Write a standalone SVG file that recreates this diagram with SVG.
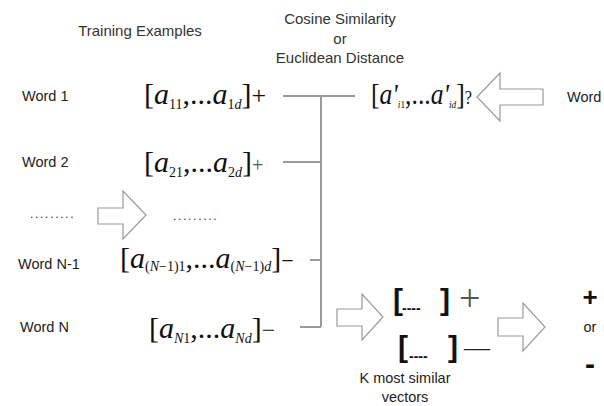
<svg xmlns="http://www.w3.org/2000/svg" width="604" height="406" viewBox="0 0 604 406">
  <style>
    .lbl { font-family: "Liberation Sans", Arial, sans-serif; font-size: 14.5px; fill: #222; }
    .hdr { font-family: "Liberation Sans", Arial, sans-serif; font-size: 15px; fill: #333; }
    .m { font-family: "Liberation Serif", "Times New Roman", serif; fill: #111; font-size: 30px; }
    .it { font-style: italic; }
    .s { font-size: 14px; }
    .dots { font-family: "Liberation Sans", Arial, sans-serif; font-size: 12px; letter-spacing: 1.7px; fill: #333; }
    .bb { font-family: "Liberation Sans", Arial, sans-serif; font-weight: bold; fill: #111; }
    .conn { stroke: #9a9a9a; stroke-width: 2; fill: none; }
    .arrow { fill: #fff; stroke: #9a9a9a; stroke-width: 1.2; stroke-linejoin: miter; }
  </style>

  <!-- block arrows (drawn first so nearby text stays on top) -->
  <g id="arrows">
    <polygon class="arrow" points="98,208 123,208 123,191 146,215 123,239 123,224 98,224"/>
    <polygon class="arrow" points="477,97 500,73 500,89 543,89 543,105 500,105 500,121"/>
    <polygon class="arrow" points="337,309 362,309 362,294 383,317 362,340 362,326 337,326"/>
    <polygon class="arrow" points="498,318 523,318 523,303 545,327 523,351 523,336 498,336"/>
  </g>

  <!-- comparison connectors -->
  <g id="connectors">
    <line class="conn" x1="283" y1="96" x2="355" y2="96"/>
    <line class="conn" x1="321" y1="96" x2="321" y2="327"/>
    <line class="conn" x1="283" y1="162" x2="321" y2="162"/>
    <line class="conn" x1="310" y1="260" x2="321" y2="260"/>
    <line class="conn" x1="300" y1="327" x2="321" y2="327"/>
  </g>

  <!-- headings -->
  <g id="heading-training">
    <text class="hdr" x="140" y="36" text-anchor="middle">Training Examples</text>
  </g>
  <g id="heading-metric">
    <text class="hdr" x="340" y="24" text-anchor="middle">Cosine Similarity</text>
    <text class="hdr" x="340" y="44" text-anchor="middle">or</text>
    <text class="hdr" x="340" y="63" text-anchor="middle">Euclidean Distance</text>
  </g>

  <!-- word labels -->
  <g id="word1-label"><text class="lbl" x="22" y="101">Word 1</text></g>
  <g id="word2-label"><text class="lbl" x="22" y="167">Word 2</text></g>
  <g id="wordN1-label"><text class="lbl" x="18" y="269">Word N-1</text></g>
  <g id="wordN-label"><text class="lbl" x="20" y="332">Word N</text></g>
  <g id="dots-left"><text class="dots" x="30" y="218">.........</text></g>
  <g id="dots-mid"><text class="dots" x="173" y="220">.........</text></g>

  <!-- training vectors: each one is a single text run with subscripts -->
  <g id="vec1">
    <text class="m" x="144" y="104">[<tspan class="it">a</tspan><tspan class="s" dy="5">11</tspan><tspan dy="-5">,...</tspan><tspan class="it">a</tspan><tspan class="s" dy="5">1<tspan class="it">d</tspan></tspan><tspan dy="-5">]</tspan><tspan font-size="26">+</tspan></text>
  </g>
  <g id="vec2">
    <text class="m" x="144" y="172">[<tspan class="it">a</tspan><tspan class="s" dy="5">21</tspan><tspan dy="-5">,...</tspan><tspan class="it">a</tspan><tspan class="s" dy="5">2<tspan class="it">d</tspan></tspan><tspan dy="-5">]</tspan><tspan font-size="20" fill="#555">+</tspan></text>
  </g>
  <g id="vecN1">
    <text class="m" x="120" y="268">[<tspan class="it">a</tspan><tspan class="s" dy="3">(<tspan class="it">N</tspan>−1)1</tspan><tspan dy="-3">,...</tspan><tspan class="it">a</tspan><tspan class="s" dy="3">(<tspan class="it">N</tspan>−1)<tspan class="it">d</tspan></tspan><tspan dy="-3">]</tspan><tspan font-size="22">−</tspan></text>
  </g>
  <g id="vecN">
    <text class="m" x="149" y="338">[<tspan class="it">a</tspan><tspan class="s" dy="5"><tspan class="it">N</tspan>1</tspan><tspan dy="-5">,...</tspan><tspan class="it">a</tspan><tspan class="s it" dy="5">Nd</tspan><tspan dy="-5">]</tspan><tspan font-size="24">−</tspan></text>
  </g>

  <!-- query vector -->
  <g id="query">
    <text class="m" x="371" y="104" font-size="22" textLength="101" lengthAdjust="spacingAndGlyphs">[<tspan class="it">a'</tspan><tspan class="it" font-size="11" dy="4">i<tspan font-style="normal">1</tspan></tspan><tspan dy="-4">,...</tspan><tspan class="it">a'</tspan><tspan class="it" font-size="11" dy="4">id</tspan><tspan dy="-4">]</tspan><tspan font-size="19">?</tspan></text>
  </g>
  <g id="query-word"><text class="lbl" x="567" y="102">Word</text></g>

  <!-- k nearest vectors -->
  <g id="knn">
    <text class="bb" x="393" y="310" font-size="30">[</text>
    <text class="bb" x="402" y="313" font-size="14">----</text>
    <text class="bb" x="440" y="310" font-size="30">]</text>
    <text x="459" y="311" font-family="Liberation Serif, serif" font-size="38" fill="#555">+</text>
    <text class="bb" x="398" y="357" font-size="30">[</text>
    <text class="bb" x="409" y="361" font-size="14">----</text>
    <text class="bb" x="448" y="357" font-size="30">]</text>
    <text x="464" y="356" font-family="Liberation Serif, serif" font-size="26" fill="#222">—</text>
    <text class="lbl" x="405" y="383" text-anchor="middle">K most similar</text>
    <text class="lbl" x="405" y="402" text-anchor="middle">vectors</text>
  </g>

  <!-- result -->
  <g id="result">
    <text class="bb" x="590" y="306" font-size="26" text-anchor="middle">+</text>
    <text class="lbl" x="590" y="332" font-size="14" text-anchor="middle">or</text>
    <text class="bb" x="590" y="374" font-size="30" text-anchor="middle">-</text>
  </g>
</svg>
